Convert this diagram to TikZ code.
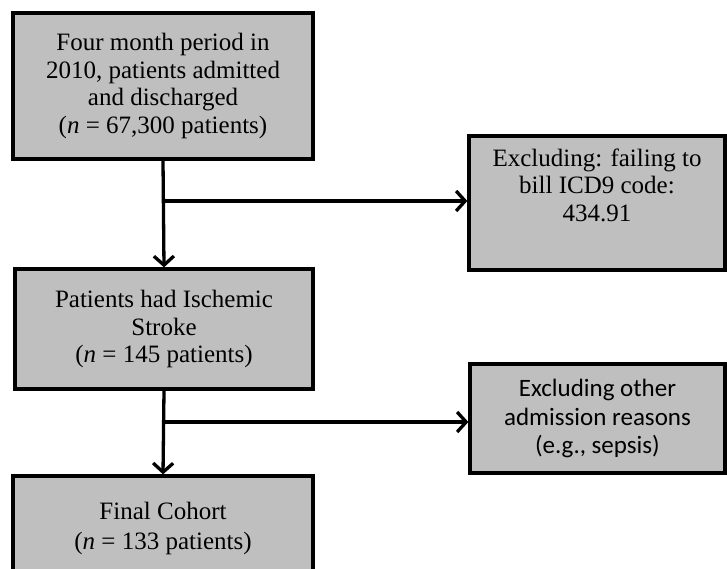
\documentclass[tikz,border=0pt]{standalone}
\usepackage{fontspec}
\setmainfont{Liberation Serif}
\newfontfamily\calfont{Carlito}
\usetikzlibrary{arrows.meta}
\definecolor{boxgray}{HTML}{BFBFBF}
\begin{document}
\begin{tikzpicture}[x=1pt,y=-1pt,
  box/.style={draw=black, line width=3.3pt, fill=boxgray, inner sep=0pt,
    align=center, font=\fontsize{25}{27.5}\selectfont},
  link/.style={line width=3.3pt, -{Straight Barb[length=9pt,width=20pt,line width=3.3pt]}}]
\useasboundingbox (0,0) rectangle (727,568);
\node[box, minimum width=300pt, minimum height=146pt] (b1) at (163,86)
  {Four month period in\\2010, patients admitted\\and discharged\\(\textit{n} = 67,300 patients)};
\node[box, minimum width=256pt, minimum height=134pt] (b2) at (597,203)
  {Excluding: failing to\\bill ICD9 code:\\434.91\\\strut};
\node[box, minimum width=298pt, minimum height=120pt] (b3) at (164,329)
  {Patients had Ischemic\\Stroke\\(\textit{n} = 145 patients)};
\node[box, minimum width=255pt, minimum height=109pt, font=\calfont\fontsize{25}{28.5}\selectfont] (b4) at (597.5,418.5)
  {Excluding other\\admission reasons\\(e.g., sepsis)};
\node[box, minimum width=300pt, minimum height=104pt, font=\fontsize{25}{30}\selectfont] (b5) at (163,528)
  {Final Cohort\\(\textit{n} = 133 patients)};
\draw[link] (b1.south) -- (b3.north);
\draw[link] (b3.south) -- (b5.north);
\coordinate (j1) at (b1.south |- 0,201);
\coordinate (j2) at (b3.south |- 0,422);
\draw[link] (j1) -- (j1 -| b2.west);
\draw[link] (j2) -- (j2 -| b4.west);
\end{tikzpicture}
\end{document}
